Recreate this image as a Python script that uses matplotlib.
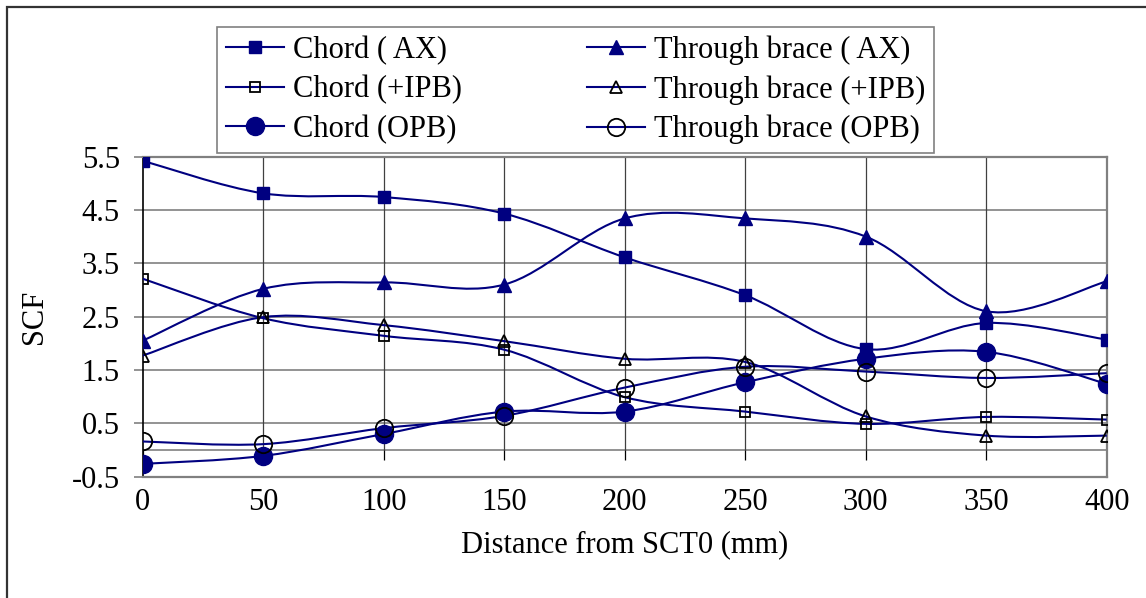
import numpy as np
import matplotlib
matplotlib.use("Agg")
import matplotlib.pyplot as plt
from matplotlib.path import Path
from matplotlib.patches import PathPatch, Rectangle
from matplotlib.lines import Line2D

plt.rcParams["font.family"] = ["Liberation Serif", "DejaVu Serif"]

distance = [0, 50, 100, 150, 200, 250, 300, 350, 400]

chord_ax = [5.42, 4.81, 4.74, 4.43, 3.61, 2.90, 1.89, 2.38, 2.07]
brace_ax = [2.05, 3.02, 3.14, 3.10, 4.34, 4.34, 4.00, 2.60, 3.16]
chord_ipb = [3.21, 2.47, 2.14, 1.88, 0.99, 0.72, 0.49, 0.62, 0.57]
brace_ipb = [1.77, 2.49, 2.34, 2.04, 1.71, 1.65, 0.63, 0.27, 0.27]
chord_opb = [-0.26, -0.11, 0.30, 0.72, 0.72, 1.27, 1.71, 1.84, 1.24]
brace_opb = [0.16, 0.11, 0.41, 0.64, 1.17, 1.56, 1.47, 1.35, 1.44]

labels = ["Chord ( AX)", "Through brace ( AX)", "Chord (+IPB)",
          "Through brace (+IPB)", "Chord (OPB)", "Through brace (OPB)"]

y_ticks = [-0.5, 0.5, 1.5, 2.5, 3.5, 4.5, 5.5]

navy = "#000080"
fs = 22


def smooth_path(x, y):
    # excel style smoothed line: cubic bezier through the points
    pts = np.column_stack([x, y]).astype(float)
    n = len(pts)
    verts = [pts[0]]
    codes = [Path.MOVETO]
    for i in range(n - 1):
        p0 = pts[max(i - 1, 0)]
        p1 = pts[i]
        p2 = pts[i + 1]
        p3 = pts[min(i + 2, n - 1)]
        verts += [p1 + (p2 - p0) / 6, p2 - (p3 - p1) / 6, p2]
        codes += [Path.CURVE4] * 3
    return Path(verts, codes)


fig = plt.figure(figsize=(11.46, 5.98), dpi=100)
ax = fig.add_axes([142.7 / 1146, 1 - 476.7 / 598, (1106.7 - 142.7) / 1146, (476.7 - 156.5) / 598])

series = [
    (chord_ax, dict(marker="s", ms=8, mfc=navy, mec=navy)),
    (brace_ax, dict(marker="^", ms=9.5, mfc=navy, mec=navy)),
    (chord_ipb, dict(marker="s", ms=7.3, mfc="none", mec="black", mew=1.3)),
    (brace_ipb, dict(marker="^", ms=8.8, mfc="none", mec="black", mew=1.3)),
    (chord_opb, dict(marker="o", ms=13, mfc=navy, mec=navy)),
    (brace_opb, dict(marker="o", ms=12.5, mfc="none", mec="black", mew=1.3)),
]

handles = []
for vals, style in series:
    ax.add_patch(PathPatch(smooth_path(distance, vals), fill=False,
                           edgecolor=navy, lw=1.5, zorder=3))
    ax.plot(distance, vals, ls="none", zorder=4, **style)
    handles.append(Line2D([], [], color=navy, lw=1.5, **style))

ax.set_xlim(0, 400)
ax.set_ylim(-0.5, 5.5)
ax.set_xticks(distance)
ax.set_yticks(y_ticks)
ax.set_yticklabels([f"{v:g}" for v in y_ticks])

# grid
for v in y_ticks:
    ax.axhline(v, color="#808080", lw=1.2, zorder=1)
ax.axhline(0, color="#808080", lw=1.2, zorder=1)
for d in distance[1:-1]:
    ax.vlines(d, 0, 5.5, color="#404040", lw=0.9, zorder=1)
ax.vlines(distance, -0.18, 0, color="black", lw=0.9, zorder=2)

for s in ["top", "right", "bottom"]:
    ax.spines[s].set_color("#808080")
    ax.spines[s].set_linewidth(1.6)
ax.spines["left"].set_color("black")
ax.spines["left"].set_linewidth(1.2)

ax.tick_params(axis="x", length=0, pad=8, labelsize=fs)
ax.tick_params(axis="y", length=6.5, width=1.2, color="#808080", pad=10, labelsize=fs)

ax.set_xlabel("Distance from SCT0 (mm)", fontsize=fs, labelpad=10)
fig.text(35 / 1146, 1 - 317 / 598, "SCF", rotation=90, fontsize=fs,
         ha="center", va="center")

order = [0, 2, 4, 1, 3, 5]
leg = fig.legend([handles[i] for i in order], [labels[i] for i in order],
                 ncol=2, loc="upper left", bbox_to_anchor=(217 / 1146, 1 - 27 / 598),
                 bbox_transform=fig.transFigure, borderaxespad=0, fontsize=fs,
                 frameon=True, fancybox=False, edgecolor="#808080", framealpha=1,
                 handlelength=1.9, handletextpad=0.3, columnspacing=4.1,
                 labelspacing=0.33, borderpad=0.28, numpoints=1)
leg.get_frame().set_linewidth(1.2)

# outer chart border (right and bottom edges fall outside the picture)
fig.patches.append(Rectangle((7 / 1146, -0.1), 1.2, 1 - 7 / 598 + 0.1,
                             transform=fig.transFigure, fill=False,
                             edgecolor="#333333", lw=1.6))

fig.savefig("out.png", dpi=100)
